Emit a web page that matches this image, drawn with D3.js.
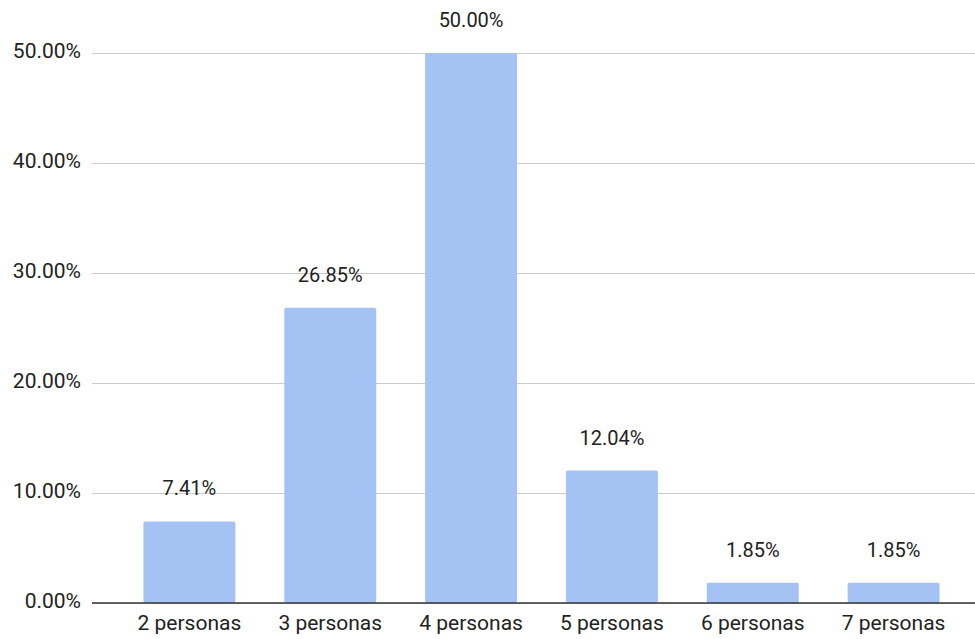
<!DOCTYPE html>
<html>
<head>
<meta charset="utf-8">
<script src="https://cdn.jsdelivr.net/npm/d3@7"></script>
<style>
  html, body { margin: 0; padding: 0; background: #fff; }
  svg { display: block; font-family: Roboto, Arial, sans-serif; }
</style>
</head>
<body>
<svg id="chart" width="975" height="639"></svg>
<script>
// Household size distribution
const categories = ["2 personas", "3 personas", "4 personas", "5 personas", "6 personas", "7 personas"];
const shares = [7.41, 26.85, 50.00, 12.04, 1.85, 1.85];
const yTicks = [0, 10, 20, 30, 40, 50];

const svg = d3.select("#chart");
const plot = { left: 92, right: 975, top: 53, bottom: 603 };

const x = d3.scaleBand()
  .domain(categories)
  .range([119, 964])
  .paddingInner(0.347)
  .paddingOuter(0.1735);

const y = d3.scaleLinear()
  .domain([0, 50])
  .range([plot.bottom, plot.top]);

// Horizontal gridlines with percentage labels
const yAxis = d3.axisLeft(y)
  .tickValues(yTicks)
  .tickFormat(d => d.toFixed(2) + "%")
  .tickSize(-(plot.right - plot.left))
  .tickPadding(11);

const gy = svg.append("g")
  .attr("transform", `translate(${plot.left},0)`)
  .call(yAxis);
gy.select(".domain").remove();
gy.selectAll(".tick line").attr("stroke", "#cccccc").attr("stroke-width", 1);
gy.selectAll(".tick text")
  .attr("fill", "#222")
  .attr("dy", "0.2em")
  .style("font-size", "21px")
  .style("font-family", "Roboto, Arial, sans-serif");

// Bars
svg.append("g")
  .selectAll("rect")
  .data(shares)
  .join("rect")
  .attr("x", (d, i) => x(categories[i]))
  .attr("y", d => y(d))
  .attr("width", x.bandwidth())
  .attr("height", d => y(0) - y(d))
  .attr("rx", 2)
  .attr("fill", "#a4c2f4");

// Value labels above bars
svg.append("g")
  .selectAll("text")
  .data(shares)
  .join("text")
  .attr("x", (d, i) => x(categories[i]) + x.bandwidth() / 2)
  .attr("y", d => y(d) - 26)
  .attr("text-anchor", "middle")
  .attr("fill", "#222")
  .style("font-size", "20px")
  .text(d => d.toFixed(2) + "%");

// Baseline and category labels
const xAxis = d3.axisBottom(x).tickSize(0).tickPadding(12);
const gx = svg.append("g")
  .attr("transform", `translate(0,${plot.bottom})`)
  .call(xAxis);
gx.select(".domain").remove();
gx.selectAll(".tick text")
  .attr("fill", "#222")
  .style("font-size", "21px")
  .style("font-family", "Roboto, Arial, sans-serif");

svg.append("line")
  .attr("x1", plot.left).attr("x2", plot.right)
  .attr("y1", y(0)).attr("y2", y(0))
  .attr("stroke", "#333").attr("stroke-width", 1.5);
</script>
</body>
</html>
